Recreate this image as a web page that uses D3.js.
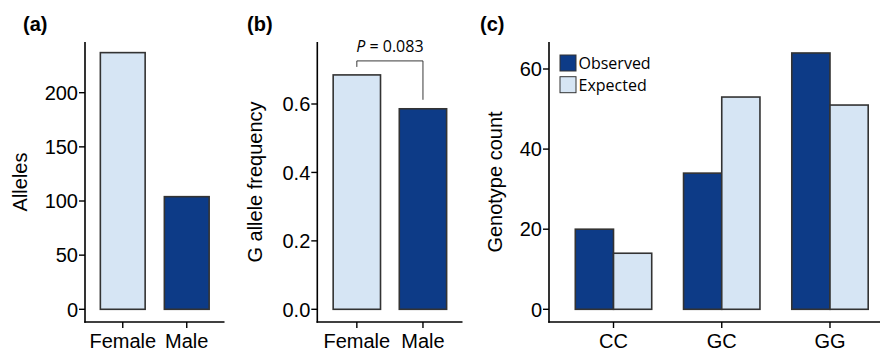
<!DOCTYPE html>
<html>
<head>
<meta charset="utf-8">
<script src="https://cdn.jsdelivr.net/npm/d3@7"></script>
<style>
  body { margin: 0; background: #fff; }
  svg { display: block; font-family: "Liberation Sans", Arial, sans-serif; }
</style>
</head>
<body>
<div id="chart"></div>
<script>
// panel (a) and (b)
var sexes = ["Female", "Male"];
var alleleCounts = [237, 104];
var gFrequency = [0.685, 0.586];
var pLabel = "0.083";

// panel (c)
var genotypes = ["CC", "GC", "GG"];
var observed = [20, 34, 64];
var expected = [14, 53, 51];
var seriesNames = ["Observed", "Expected"];

var allelesTicks = [0, 50, 100, 150, 200];
var freqTicks = [0, 0.2, 0.4, 0.6];
var countTicks = [0, 20, 40, 60];

var dark = "#0d3b87", light = "#d6e5f4", edge = "#333333";
var fs = 20;

var svg = d3.select("#chart").append("svg")
    .attr("width", 880)
    .attr("height", 351);

var axisTop = 42, axisBottom = 322;

function drawAxes(g, x0, x1, y, ticks, fmt, xscale, xTicks) {
    g.append("line")
        .attr("x1", x0).attr("x2", x0)
        .attr("y1", axisTop).attr("y2", axisBottom + 0.75)
        .attr("stroke", "#000").attr("stroke-width", 1.6);
    g.append("line")
        .attr("x1", x0 - 0.75).attr("x2", x1)
        .attr("y1", axisBottom).attr("y2", axisBottom)
        .attr("stroke", "#000").attr("stroke-width", 1.6);

    var yt = g.selectAll(".yt").data(ticks).enter().append("g")
        .attr("transform", function(d) { return "translate(0," + y(d) + ")"; });
    yt.append("line")
        .attr("x1", x0 - 6).attr("x2", x0)
        .attr("stroke", "#000").attr("stroke-width", 1.4);
    yt.append("text")
        .attr("x", x0 - 7)
        .attr("dy", "0.36em")
        .attr("text-anchor", "end")
        .attr("font-size", fs)
        .text(fmt);

    var xt = g.selectAll(".xt").data(xTicks).enter().append("g")
        .attr("transform", function(d) { return "translate(" + (xscale(d) + xscale.bandwidth() / 2) + ",0)"; });
    xt.append("line")
        .attr("y1", axisBottom).attr("y2", axisBottom + 6)
        .attr("stroke", "#000").attr("stroke-width", 1.4);
    xt.append("text")
        .attr("y", 348)
        .attr("text-anchor", "middle")
        .attr("font-size", fs)
        .text(function(d) { return d; });
}

function yLabel(g, x, text) {
    g.append("text")
        .attr("transform", "translate(" + x + "," + 182 + ") rotate(-90)")
        .attr("text-anchor", "middle")
        .attr("dy", "0.35em")
        .attr("font-size", fs)
        .text(text);
}

function panelTitle(x, t) {
    svg.append("text")
        .attr("x", x).attr("y", 31)
        .attr("font-size", fs)
        .attr("font-weight", "bold")
        .text(t);
}

// ---------- (a)
var ga = svg.append("g");
var xa = d3.scaleBand().domain(sexes).range([85, 224.5]).paddingInner(0.3).paddingOuter(0.24);
var ya = d3.scaleLinear().domain([0, 200]).range([309.3, 92.7]);

ga.selectAll("rect").data(sexes).enter().append("rect")
    .attr("x", function(d) { return xa(d); })
    .attr("width", xa.bandwidth())
    .attr("y", function(d, i) { return ya(alleleCounts[i]); })
    .attr("height", function(d, i) { return ya(0) - ya(alleleCounts[i]); })
    .attr("fill", function(d, i) { return i == 0 ? light : dark; })
    .attr("stroke", edge).attr("stroke-width", 1.6);

drawAxes(ga, 85, 224.5, ya, allelesTicks, function(d) { return d; }, xa, sexes);
yLabel(ga, 19.5, "Alleles");
panelTitle(23, "(a)");

// ---------- (b)
var gb = svg.append("g");
var xb = d3.scaleBand().domain(sexes).range([317.3, 462.5]).paddingInner(0.284).paddingOuter(0.24);
var yb = d3.scaleLinear().domain([0, 0.6]).range([309.3, 104]);

gb.selectAll("rect").data(sexes).enter().append("rect")
    .attr("x", function(d) { return xb(d); })
    .attr("width", xb.bandwidth())
    .attr("y", function(d, i) { return yb(gFrequency[i]); })
    .attr("height", function(d, i) { return yb(0) - yb(gFrequency[i]); })
    .attr("fill", function(d, i) { return i == 0 ? light : dark; })
    .attr("stroke", edge).attr("stroke-width", 1.6);

drawAxes(gb, 317.3, 462.5, yb, freqTicks, d3.format(".1f"), xb, sexes);
yLabel(gb, 255, "G allele frequency");
panelTitle(247, "(b)");

// significance bracket
var bx0 = xb("Female") + xb.bandwidth() / 2,
    bx1 = xb("Male") + xb.bandwidth() / 2,
    bTop = yb(gFrequency[0]) - 14;
gb.append("path")
    .attr("d", "M" + bx0 + "," + (yb(gFrequency[0]) - 8) + "V" + bTop + "H" + bx1 + "V" + (yb(gFrequency[1]) - 9))
    .attr("fill", "none").attr("stroke", "#222").attr("stroke-width", 0.9);
var pt = gb.append("text")
    .attr("x", (bx0 + bx1) / 2)
    .attr("y", bTop - 9)
    .attr("text-anchor", "middle")
    .attr("font-family", "'Open Sans', sans-serif")
    .attr("font-size", 16);
pt.append("tspan").attr("font-style", "italic").text("P");
pt.append("tspan").text(" = " + pLabel);

// ---------- (c)
var gc = svg.append("g");
var xc = d3.scaleBand().domain(genotypes).range([549, 894.5]).paddingInner(0.294).paddingOuter(0.243);
var xs = d3.scaleBand().domain(seriesNames).range([0, xc.bandwidth()]);
var yc = d3.scaleLinear().domain([0, 60]).range([309.3, 69]);

var seriesData = [observed, expected];
var groups = gc.selectAll(".grp").data(genotypes).enter().append("g")
    .attr("transform", function(d) { return "translate(" + xc(d) + ",0)"; });
groups.selectAll("rect")
    .data(function(d, gi) { return seriesNames.map(function(s, si) { return {s: s, v: seriesData[si][gi]}; }); })
    .enter().append("rect")
    .attr("x", function(d) { return xs(d.s); })
    .attr("width", xs.bandwidth())
    .attr("y", function(d) { return yc(d.v); })
    .attr("height", function(d) { return yc(0) - yc(d.v); })
    .attr("fill", function(d) { return d.s == "Observed" ? dark : light; })
    .attr("stroke", edge).attr("stroke-width", 1.6);

drawAxes(gc, 549, 880, yc, countTicks, function(d) { return d; }, xc, genotypes);
yLabel(gc, 495, "Genotype count");
panelTitle(480, "(c)");

// legend
var lg = gc.selectAll(".leg").data(seriesNames).enter().append("g")
    .attr("transform", function(d, i) { return "translate(560," + (55 + i * 21.7) + ")"; });
lg.append("rect")
    .attr("width", 16).attr("height", 16)
    .attr("fill", function(d) { return d == "Observed" ? dark : light; })
    .attr("stroke", "#333").attr("stroke-width", 1);
lg.append("text")
    .attr("x", 18.5).attr("y", 14)
    .attr("font-family", "'Open Sans', sans-serif")
    .attr("font-size", 16)
    .text(function(d) { return d; });
</script>
</body>
</html>
